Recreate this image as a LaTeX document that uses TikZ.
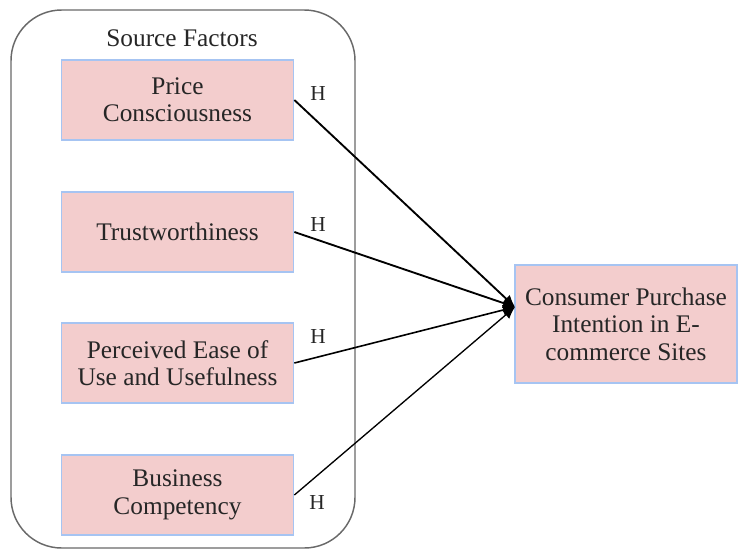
\documentclass[tikz,border=0pt]{standalone}
\usepackage{fontspec}
\setmainfont{LiberationSerif-Regular.ttf}
\usetikzlibrary{arrows.meta}
\definecolor{boxfill}{RGB}{243,205,205}
\definecolor{boxline}{RGB}{166,196,242}
\definecolor{framegray}{RGB}{105,105,105}
\tikzset{
  factor/.style={draw=boxline, fill=boxfill, line width=1.3pt, align=center,
    minimum width=174pt, minimum height=60pt, inner sep=0pt,
    font=\fontsize{19}{20.5}\selectfont, text=black!85},
  link/.style={line width=1.4pt, -{Latex[length=9pt,width=8pt]}},
  hyp/.style={font=\fontsize{16}{18}\selectfont, text=black!85}
}
\begin{document}
\begin{tikzpicture}[x=0.75pt, y=-0.75pt]
	\useasboundingbox (0,0) rectangle (738,550);
	% frame round the source factors
	\draw[framegray, line width=1.1pt, rounded corners=38pt] (11,10) rectangle (355,548);
	\node[font=\fontsize{19}{20.5}\selectfont, text=black!85] (title) at (182,38) {Source Factors};

	\node[factor] (price) at (177.5,100) {Price\\Consciousness};
	\node[factor] (trust) at (177.5,232) {Trustworthiness};
	\node[factor] (ease) at (177.5,363) {Perceived Ease of\\Use and Usefulness};
	\node[factor] (comp) at (177.5,495) {Business\\Competency};

	\node[factor, minimum width=166.5pt, minimum height=88.5pt] (cpi) at (626,324)
		{Consumer Purchase\\Intention in E-\\commerce Sites};
	\coordinate (tip) at (515,307);

	\draw[link] (price.east) -- (tip);
	\draw[link] (trust.east) -- (tip);
	\draw[link, line width=1.2pt] (ease.east) -- (tip);
	\draw[link, line width=1pt] (comp.east) -- (tip);

	\node[hyp] (h1) at (318,94) {H};
	\node[hyp] (h2) at (318,225) {H};
	\node[hyp] (h3) at (318,337) {H};
	\node[hyp] (h4) at (317,503) {H};
\end{tikzpicture}
\end{document}
